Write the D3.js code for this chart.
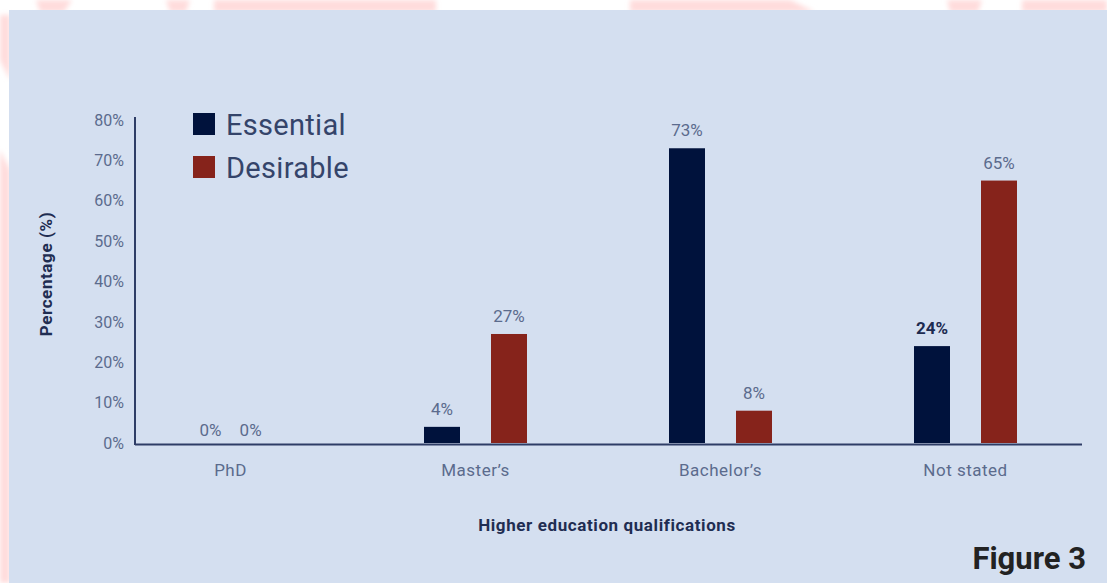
<!DOCTYPE html>
<html>
<head>
<meta charset="utf-8">
<script src="https://cdn.jsdelivr.net/npm/d3@7/dist/d3.min.js"></script>
<style>
  html, body { margin: 0; padding: 0; background: #ffffff; }
  svg { display: block; font-family: Roboto, "Noto Sans", sans-serif; }
</style>
</head>
<body>
<svg id="chart" width="1107" height="583"></svg>
<script>
// Qualification categories and the share of job ads per requirement level
const categories = ["PhD", "Master\u2019s", "Bachelor\u2019s", "Not stated"];
const seriesNames = ["Essential", "Desirable"];
const essential = [0, 4, 73, 24];
const desirable = [0, 27, 8, 65];
const yTicks = [0, 10, 20, 30, 40, 50, 60, 70, 80];

const colors = { Essential: "#00123c", Desirable: "#86231b" };

const W = 1107, H = 583;
const svg = d3.select("#chart");

// Page backdrop: soft pink decorative bands peeking out around the panel
const defs = svg.append("defs");
defs.append("filter").attr("id", "soft")
  .append("feGaussianBlur").attr("stdDeviation", 2.5);
const deco = svg.append("g").attr("filter", "url(#soft)");
const pink = "#ffdcdc";
[
  [[36, 0], [72, 0], [64, 12], [40, 12]],
  [[166, 0], [190, 0], [186, 12], [170, 12]],
  [[214, 0], [436, 0], [436, 12], [214, 12]],
  [[630, 0], [790, 0], [815, 12], [630, 12]],
  [[947, 0], [982, 0], [978, 12], [950, 12]],
  [[1022, 0], [1107, 0], [1107, 12], [1022, 12]],
  [[0, 15], [10, 15], [10, 80], [0, 60]],
  [[0, 150], [10, 170], [10, 583], [0, 583]]
].forEach(p => deco.append("path").attr("d", d3.line()(p) + "Z").attr("fill", pink));

// Light blue panel
svg.append("rect")
  .attr("x", 9).attr("y", 10).attr("width", W - 9).attr("height", H - 10)
  .attr("fill", "#d4dff0");

// Scales
const plotLeft = 135, plotRight = 1082;
const y = d3.scaleLinear().domain([0, 80]).range([443, 120]);
const x = d3.scaleBand().domain(categories).range([108, 1088]);
const inner = d3.scalePoint().domain(seriesNames).range([-33.5, 33.5]);
const barW = 36;

// Y axis: tick labels only, plus a vertical rule
const yAxis = d3.axisLeft(y).tickValues(yTicks).tickFormat(d => d + "%").tickSize(0).tickPadding(11);
const gy = svg.append("g").attr("transform", `translate(${plotLeft},0)`).call(yAxis);
gy.select(".domain").remove();
gy.selectAll("text")
  .attr("font-size", 16).attr("fill", "#5b6b8d")
  .attr("font-family", "Roboto, sans-serif");

svg.append("line")
  .attr("x1", plotLeft).attr("x2", plotLeft)
  .attr("y1", 117).attr("y2", y(0) + 2)
  .attr("stroke", "#2e3d66").attr("stroke-width", 2);

// X axis category labels
const xAxis = d3.axisBottom(x).tickSize(0).tickPadding(19);
const gx = svg.append("g").attr("transform", `translate(0,${y(0) + 2})`).call(xAxis);
gx.select(".domain").remove();
gx.selectAll("text")
  .attr("font-size", 17).attr("letter-spacing", 0.5).attr("fill", "#5b6b8d")
  .attr("font-family", "Roboto, sans-serif");

// Bars
const rows = categories.map((c, i) => ({
  category: c,
  values: [
    { key: "Essential", value: essential[i] },
    { key: "Desirable", value: desirable[i] }
  ]
}));

const groups = svg.append("g").selectAll("g")
  .data(rows).join("g")
  .attr("transform", d => `translate(${x(d.category) + x.bandwidth() / 2},0)`);

groups.selectAll("rect")
  .data(d => d.values.filter(v => v.value > 0))
  .join("rect")
  .attr("x", d => inner(d.key) - barW / 2)
  .attr("y", d => y(d.value))
  .attr("width", barW)
  .attr("height", d => y(0) - y(d.value))
  .attr("fill", d => colors[d.key]);

// Value labels
groups.selectAll("text.val")
  .data(d => d.values.map(v => Object.assign({ category: d.category }, v)))
  .join("text")
  .attr("class", "val")
  .attr("x", d => inner(d.key) * (d.value === 0 ? 0.6 : 1))
  .attr("y", d => y(d.value) - (d.value === 0 ? 7 : 12))
  .attr("text-anchor", "middle")
  .attr("font-size", 17)
  .attr("font-weight", d => d.category === "Not stated" && d.key === "Essential" ? 700 : 400)
  .attr("fill", d => d.category === "Not stated" && d.key === "Essential" ? "#1d2b50" : "#5b6b8d")
  .text(d => d.value + "%");

// Baseline
svg.append("line")
  .attr("x1", plotLeft).attr("x2", plotRight)
  .attr("y1", y(0) + 1.5).attr("y2", y(0) + 1.5)
  .attr("stroke", "#2e3d66").attr("stroke-width", 2);

// Legend
const legend = svg.append("g").attr("transform", "translate(193,113)");
seriesNames.forEach((s, i) => {
  const g = legend.append("g").attr("transform", `translate(0,${i * 43})`);
  g.append("rect").attr("width", 22).attr("height", 22).attr("fill", colors[s]);
  g.append("text").attr("x", 33).attr("y", 22)
    .attr("font-size", 29).attr("letter-spacing", 0.3).attr("fill", "#34446a").text(s);
});

// Axis titles
svg.append("text")
  .attr("transform", "translate(52,274) rotate(-90)")
  .attr("text-anchor", "middle")
  .attr("font-size", 17).attr("letter-spacing", 0.6).attr("font-weight", 700).attr("fill", "#1f2d52")
  .text("Percentage (%)");

svg.append("text")
  .attr("x", 607).attr("y", 531)
  .attr("text-anchor", "middle")
  .attr("font-size", 17).attr("letter-spacing", 0.6).attr("font-weight", 700).attr("fill", "#1f2d52")
  .text("Higher education qualifications");

// Figure caption
svg.append("text")
  .attr("x", 1086).attr("y", 569)
  .attr("text-anchor", "end")
  .attr("font-size", 31).attr("font-weight", 700).attr("fill", "#222222")
  .text("Figure 3");
</script>
</body>
</html>
